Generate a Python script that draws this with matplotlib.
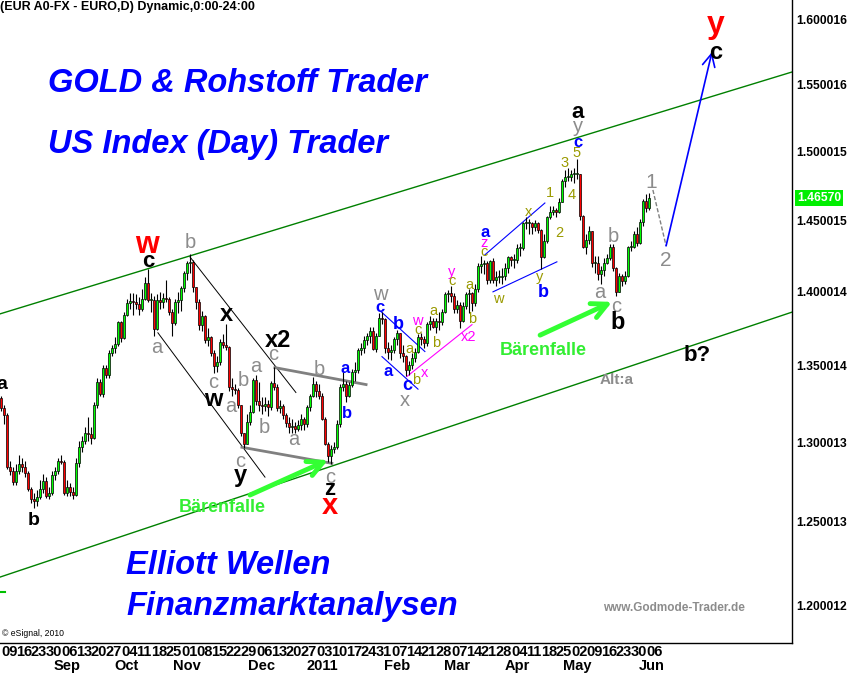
import numpy as np
import pandas as pd
import matplotlib
matplotlib.use('Agg')
import matplotlib.pyplot as plt

plt.rcParams['font.family'] = ['Liberation Sans', 'DejaVu Sans']

# EUR/USD Tageskerzen 06.08.2010 - 07.06.2011, Eröffnung = Schluss des Vortags
first_open = 1.3190

close_aug = [1.3285, 1.3220, 1.3174, 1.2840, 1.2820, 1.2750, 1.2820, 1.2862, 1.2844, 1.2806,
             1.2706, 1.2644, 1.2631, 1.2656, 1.2706, 1.2756, 1.2662, 1.2681]
high_aug = [1.3334, 1.3300, 1.3240, 1.3190, 1.2880, 1.2840, 1.2860, 1.2920, 1.2900, 1.2880,
            1.2820, 1.2720, 1.2680, 1.2700, 1.2760, 1.2800, 1.2780, 1.2720]
low_aug = [1.3190, 1.3200, 1.3120, 1.2830, 1.2790, 1.2730, 1.2730, 1.2800, 1.2810, 1.2780,
           1.2690, 1.2620, 1.2588, 1.2600, 1.2640, 1.2680, 1.2650, 1.2640]

close_sep = [1.2794, 1.2819, 1.2881, 1.2875, 1.2681, 1.2719, 1.2688, 1.2669, 1.2869, 1.2968, 1.3007,
             1.3058, 1.3052, 1.3026, 1.3238, 1.3393, 1.3313, 1.3481, 1.3440, 1.3584, 1.3619, 1.3646]
high_sep = [1.2820, 1.2840, 1.2900, 1.2920, 1.2890, 1.2760, 1.2740, 1.2720, 1.2900, 1.3010, 1.3040,
            1.3100, 1.3160, 1.3100, 1.3260, 1.3420, 1.3410, 1.3500, 1.3500, 1.3600, 1.3640, 1.3690]
low_sep = [1.2670, 1.2760, 1.2800, 1.2860, 1.2670, 1.2660, 1.2660, 1.2640, 1.2660, 1.2840, 1.2940,
           1.2990, 1.3010, 1.2990, 1.3020, 1.3220, 1.3300, 1.3290, 1.3420, 1.3420, 1.3560, 1.3580]

close_oct = [1.3793, 1.3686, 1.3837, 1.3920, 1.3936, 1.3929, 1.3915, 1.3880, 1.3950, 1.4058, 1.3943,
             1.3943, 1.3746, 1.3943, 1.3930, 1.3957, 1.3950, 1.3858, 1.3787, 1.3929, 1.3943]
high_oct = [1.3800, 1.3800, 1.3860, 1.3950, 1.3990, 1.3990, 1.3980, 1.3960, 1.4020, 1.4100, 1.4157,
            1.3990, 1.3970, 1.3980, 1.4000, 1.3990, 1.4080, 1.3960, 1.3880, 1.3950, 1.4000]
low_oct = [1.3630, 1.3660, 1.3680, 1.3830, 1.3880, 1.3840, 1.3880, 1.3840, 1.3870, 1.3940, 1.3930,
           1.3860, 1.3697, 1.3740, 1.3880, 1.3890, 1.3930, 1.3840, 1.3700, 1.3770, 1.3850]

close_nov = [1.4024, 1.4127, 1.4200, 1.4205, 1.4031, 1.3929, 1.3773, 1.3830, 1.3673, 1.3690, 1.3586,
             1.3494, 1.3525, 1.3659, 1.3640, 1.3625, 1.3360, 1.3347, 1.3340, 1.3238, 1.3058, 1.2988]
high_nov = [1.4040, 1.4140, 1.4210, 1.4264, 1.4220, 1.4030, 1.3950, 1.3870, 1.3840, 1.3750, 1.3700,
            1.3600, 1.3560, 1.3680, 1.3710, 1.3775, 1.3630, 1.3420, 1.3380, 1.3350, 1.3240, 1.3060]
low_nov = [1.3870, 1.4000, 1.4080, 1.4130, 1.4000, 1.3880, 1.3740, 1.3730, 1.3650, 1.3630, 1.3560,
           1.3450, 1.3460, 1.3500, 1.3620, 1.3600, 1.3330, 1.3300, 1.3310, 1.3220, 1.3040, 1.2963]

close_dec = [1.3131, 1.3195, 1.3407, 1.3265, 1.3238, 1.3232, 1.3250, 1.3226, 1.3387, 1.3360, 1.3220, 1.3235,
             1.3174, 1.3123, 1.3100, 1.3105, 1.3085, 1.3110, 1.3150, 1.3115, 1.3230, 1.3300, 1.3375]
high_dec = [1.3180, 1.3240, 1.3420, 1.3440, 1.3390, 1.3290, 1.3290, 1.3270, 1.3400, 1.3493, 1.3380, 1.3270,
            1.3250, 1.3190, 1.3160, 1.3150, 1.3130, 1.3140, 1.3180, 1.3160, 1.3240, 1.3310, 1.3421]
low_dec = [1.2990, 1.3110, 1.3190, 1.3240, 1.3200, 1.3180, 1.3200, 1.3170, 1.3210, 1.3340, 1.3200, 1.3190,
           1.3150, 1.3100, 1.3060, 1.3060, 1.3060, 1.3070, 1.3080, 1.3080, 1.3100, 1.3200, 1.3290]

close_jan = [1.3330, 1.3300, 1.3150, 1.2990, 1.2910, 1.2955, 1.2970, 1.3120, 1.3360, 1.3380, 1.3300,
             1.3370, 1.3460, 1.3470, 1.3600, 1.3620, 1.3670, 1.3700, 1.3730, 1.3610, 1.3700]
high_jan = [1.3400, 1.3380, 1.3320, 1.3160, 1.3000, 1.2980, 1.3000, 1.3140, 1.3380, 1.3458, 1.3400,
            1.3390, 1.3480, 1.3520, 1.3620, 1.3650, 1.3700, 1.3720, 1.3760, 1.3760, 1.3720]
low_jan = [1.3290, 1.3280, 1.3140, 1.2980, 1.2873, 1.2860, 1.2930, 1.2960, 1.3100, 1.3330, 1.3260,
           1.3290, 1.3360, 1.3400, 1.3450, 1.3570, 1.3580, 1.3640, 1.3650, 1.3600, 1.3590]

close_feb = [1.3820, 1.3810, 1.3620, 1.3590, 1.3600, 1.3680, 1.3720, 1.3580, 1.3560, 1.3470,
             1.3500, 1.3550, 1.3590, 1.3690, 1.3680, 1.3650, 1.3780, 1.3800, 1.3760, 1.3800]
high_feb = [1.3850, 1.3862, 1.3820, 1.3660, 1.3640, 1.3690, 1.3736, 1.3720, 1.3640, 1.3570,
            1.3530, 1.3580, 1.3620, 1.3710, 1.3720, 1.3700, 1.3790, 1.3830, 1.3820, 1.3820]
low_feb = [1.3700, 1.3780, 1.3580, 1.3540, 1.3538, 1.3580, 1.3640, 1.3550, 1.3520, 1.3428,
           1.3440, 1.3480, 1.3520, 1.3580, 1.3640, 1.3620, 1.3630, 1.3740, 1.3750, 1.3720]

close_mar = [1.3790, 1.3860, 1.3980, 1.3990, 1.3970, 1.3880, 1.3910, 1.3800, 1.3900, 1.3980, 1.3990, 1.3920,
             1.4020, 1.4180, 1.4190, 1.4200, 1.4080, 1.4210, 1.4080, 1.4100, 1.4100, 1.4110, 1.4160]
high_mar = [1.3860, 1.3880, 1.4000, 1.4010, 1.4036, 1.3990, 1.3940, 1.3930, 1.3930, 1.4000, 1.4020, 1.4000,
            1.4050, 1.4200, 1.4249, 1.4220, 1.4210, 1.4220, 1.4230, 1.4140, 1.4150, 1.4160, 1.4200]
low_mar = [1.3740, 1.3770, 1.3850, 1.3930, 1.3930, 1.3850, 1.3850, 1.3749, 1.3790, 1.3880, 1.3850, 1.3870,
           1.3900, 1.4000, 1.4130, 1.4120, 1.4050, 1.4060, 1.4060, 1.4040, 1.4060, 1.4050, 1.4080]

close_apr = [1.4240, 1.4220, 1.4220, 1.4300, 1.4300, 1.4480, 1.4480, 1.4480, 1.4450, 1.4480, 1.4430,
             1.4240, 1.4350, 1.4520, 1.4560, 1.4570, 1.4560, 1.4630, 1.4780, 1.4810, 1.4810]
high_apr = [1.4250, 1.4250, 1.4260, 1.4330, 1.4340, 1.4490, 1.4520, 1.4510, 1.4490, 1.4500, 1.4490,
            1.4440, 1.4400, 1.4530, 1.4600, 1.4600, 1.4590, 1.4660, 1.4800, 1.4860, 1.4880]
low_apr = [1.4130, 1.4180, 1.4160, 1.4200, 1.4250, 1.4290, 1.4440, 1.4400, 1.4400, 1.4420, 1.4410,
           1.4155, 1.4230, 1.4340, 1.4510, 1.4540, 1.4520, 1.4550, 1.4630, 1.4740, 1.4780]

close_may = [1.4830, 1.4830, 1.4830, 1.4530, 1.4310, 1.4360, 1.4420, 1.4200, 1.4200, 1.4120, 1.4150,
             1.4200, 1.4230, 1.4310, 1.4160, 1.4000, 1.4110, 1.4070, 1.4110, 1.4310, 1.4310, 1.4400]
high_may = [1.4860, 1.4880, 1.4940, 1.4830, 1.4540, 1.4400, 1.4460, 1.4420, 1.4250, 1.4250, 1.4180,
            1.4230, 1.4260, 1.4330, 1.4330, 1.4170, 1.4130, 1.4120, 1.4140, 1.4320, 1.4350, 1.4420]
low_may = [1.4780, 1.4770, 1.4800, 1.4500, 1.4300, 1.4260, 1.4330, 1.4170, 1.4130, 1.4080, 1.4050,
           1.4110, 1.4190, 1.4220, 1.4140, 1.3968, 1.4000, 1.4040, 1.4050, 1.4100, 1.4280, 1.4300]

close_jun = [1.4340, 1.4490, 1.4640, 1.4590, 1.4657]
high_jun = [1.4450, 1.4510, 1.4650, 1.4690, 1.4695]
low_jun = [1.4320, 1.4330, 1.4460, 1.4560, 1.4570]

last_price = 1.46570

price_ticks = [1.200012, 1.250013, 1.300013, 1.350014, 1.400014,
               1.450015, 1.500015, 1.550016, 1.600016]
price_tick_labels = ['1.200012', '1.250013', '1.300013', '1.350014', '1.400014',
                     '1.450015', '1.500015', '1.550016', '1.600016']
month_names = {9: 'Sep', 10: 'Oct', 11: 'Nov', 12: 'Dec', 1: '2011',
               2: 'Feb', 3: 'Mar', 4: 'Apr', 5: 'May', 6: 'Jun'}

close = (close_aug + close_sep + close_oct + close_nov + close_dec + close_jan
         + close_feb + close_mar + close_apr + close_may + close_jun)
high = (high_aug + high_sep + high_oct + high_nov + high_dec + high_jan
        + high_feb + high_mar + high_apr + high_may + high_jun)
low = (low_aug + low_sep + low_oct + low_nov + low_dec + low_jan
       + low_feb + low_mar + low_apr + low_may + low_jun)

dates = pd.bdate_range('2010-08-06', '2011-06-07')
c = np.array(close)
h = np.array(high)
l = np.array(low)
o = np.concatenate([[first_open], c[:-1]])
pos = np.arange(len(dates))

# Wellen-Zählung: (Kerzen-Position, Kurs, Text, Farbe, Größe, fett)
GR = '#8c8c8c'
OL = '#9a9a00'
BL = '#0000ff'
MG = '#ff00ff'
RD = '#ff0000'
BK = 'black'
labels = [
    (1.3, 1.3374, 'a', BK, 14, True), (12.0, 1.2512, 'b', BK, 14, True),
    (49.7, 1.4325, 'w', RD, 22, True), (50.0, 1.4206, 'c', BK, 16, True),
    (64.0, 1.4339, 'b', GR, 14.5, False), (53.0, 1.3619, 'a', GR, 14.5, False),
    (76.3, 1.3841, 'x', BK, 17, True), (71.7, 1.3388, 'c', GR, 14.5, False),
    (71.7, 1.3276, 'w', BK, 17, True), (77.7, 1.3231, 'a', GR, 14.5, False),
    (81.7, 1.3401, 'b', GR, 14.5, False), (86.0, 1.3493, 'a', GR, 14.5, False),
    (88.7, 1.3095, 'b', GR, 14.5, False), (93.3, 1.3666, 'x2', BK, 17, True),
    (91.7, 1.3573, 'c', GR, 14.5, False), (80.7, 1.2879, 'c', GR, 14.5, False),
    (80.7, 1.2790, 'y', BK, 17, True), (107.0, 1.3473, 'b', GR, 14.5, False),
    (98.7, 1.3019, 'a', GR, 14.5, False), (115.7, 1.3480, 'a', BL, 12, True),
    (116.3, 1.3186, 'b', BL, 12, True), (110.7, 1.2779, 'c', GR, 14.5, False),
    (110.7, 1.2700, 'z', BK, 16, True), (110.7, 1.2598, 'x', RD, 21, True),
    (127.3, 1.3978, 'w', GR, 14.5, False), (127.3, 1.3889, 'c', BL, 12, True),
    (133.3, 1.3774, 'b', BL, 13, True), (130.0, 1.3460, 'a', BL, 12, True),
    (136.3, 1.3368, 'c', BL, 13, True), (135.7, 1.3270, 'x', GR, 14.5, False),
    (137.0, 1.3612, 'a', OL, 10.5, False), (139.3, 1.3401, 'b', OL, 10.5, False),
    (142.3, 1.3447, 'x', MG, 10.5, False), (139.7, 1.3801, 'w', MG, 10.5, False),
    (140.0, 1.3740, 'c', OL, 10.5, False), (145.3, 1.3869, 'a', OL, 10.5, False),
    (146.0, 1.3653, 'b', OL, 10.5, False), (151.3, 1.4136, 'y', MG, 10.5, False),
    (151.3, 1.4074, 'c', OL, 10.5, False), (157.0, 1.4046, 'a', OL, 10.5, False),
    (158.0, 1.3814, 'b', OL, 10.5, False), (156.7, 1.3693, 'x2', MG, 10.5, False),
    (162.3, 1.4409, 'a', BL, 12, True), (162.0, 1.4339, 'z', MG, 10.5, False),
    (162.0, 1.4276, 'c', OL, 10.5, False), (166.7, 1.3950, 'w', OL, 10.5, False),
    (176.7, 1.4559, 'x', OL, 10.5, False), (180.7, 1.4102, 'y', OL, 10.5, False),
    (181.7, 1.3991, 'b', BL, 13, True), (184.0, 1.4695, '1', OL, 10.5, False),
    (187.0, 1.4409, '2', OL, 10.5, False), (189.0, 1.4913, '3', OL, 10.5, False),
    (191.3, 1.4681, '4', OL, 10.5, False), (193.0, 1.4987, '5', OL, 10.5, False),
    (193.3, 1.5061, 'c', BL, 12, True), (193.3, 1.5180, 'y', GR, 14.5, False),
    (193.3, 1.5292, 'a', BK, 16, True), (200.7, 1.3991, 'a', GR, 14.5, False),
    (205.0, 1.4381, 'b', GR, 14.5, False), (206.0, 1.3896, 'c', GR, 14.5, False),
    (206.7, 1.3787, 'b', BK, 17, True), (217.7, 1.4768, '1', GR, 15, False),
    (222.7, 1.4213, '2', GR, 15, False), (239.3, 1.5961, 'y', RD, 23, True),
    (239.3, 1.5750, 'c', BK, 17, True), (233.0, 1.3566, 'b?', BK, 16, True),
    (206.3, 1.3401, 'Alt:a', GR, 11, True),
    (74.7, 1.2592, 'Bärenfalle', '#33ee33', 13, True),
    (181.7, 1.3599, 'Bärenfalle', '#33ee33', 13, True),
]

# Trendlinien: (x0, p0, x1, p1, Farbe, Breite, Stil)
lines = [
    (0.67, 1.3847, 264.67, 1.5596, '#008000', 1.0, '-'),
    (0.67, 1.2166, 264.67, 1.3859, '#008000', 1.0, '-'),
    (0.67, 1.2077, 2.3, 1.2077, '#00c000', 1.5, '-'),
    (64.0, 1.4240, 99.3, 1.3322, 'black', 0.7, '-'),
    (53.3, 1.3719, 89.0, 1.2779, 'black', 0.7, '-'),
    (92.3, 1.3486, 122.7, 1.3374, '#808080', 2.0, '-'),
    (81.3, 1.2968, 111.3, 1.2866, '#808080', 2.0, '-'),
    (127.7, 1.3862, 142.3, 1.3593, BL, 0.8, '-'),
    (128.0, 1.3559, 140.0, 1.3344, BL, 0.8, '-'),
    (162.3, 1.4255, 182.3, 1.4623, BL, 0.8, '-'),
    (165.0, 1.3998, 186.3, 1.4206, BL, 0.8, '-'),
    (136.3, 1.3427, 158.0, 1.3774, MG, 0.8, '-'),
    (218.3, 1.4717, 222.7, 1.4318, '#808080', 1.0, (0, (3, 1.5))),
]

# Pfeile: (x0, p0, x1, p1, Farbe, Breite)
arrows = [
    (84.0, 1.2667, 110.0, 1.2887, '#33ff33', 3.5),
    (180.7, 1.3703, 204.7, 1.3929, '#33ff33', 3.5),
    (222.7, 1.4318, 238.0, 1.5750, BL, 1.2),
]

W, H = 848, 673
fig = plt.figure(figsize=(W / 100, H / 100), dpi=100)
ax = fig.add_axes([0, 30 / H, 792 / W, 643 / H])
ax.set_yscale('log')
ax.set_xlim(0.67, 264.67)
ax.set_ylim(1.1778, 1.6158)

# Kerzen
up = c >= o
lo_b = np.minimum(o, c)
hi_b = np.maximum(np.maximum(o, c), lo_b * 1.0005)
ax.vlines(pos, l, h, color='black', lw=0.8, zorder=2)
ax.bar(pos, hi_b - lo_b, bottom=lo_b, width=0.8,
       color=np.where(up, '#00ff00', '#ff0000'), edgecolor='black', linewidth=0.5, zorder=3)

for x0, p0, x1, p1, col, lw, ls in lines:
    ax.plot([x0, x1], [p0, p1], color=col, lw=lw, ls=ls, zorder=1)

for x0, p0, x1, p1, col, lw in arrows:
    hl = 1.1 if lw > 2 else 0.9
    ax.annotate('', xy=(x1, p1), xytext=(x0, p0),
                arrowprops=dict(arrowstyle=f'->,head_length={hl},head_width={hl * 0.5}',
                                color=col, lw=lw, shrinkA=0, shrinkB=0), zorder=4)

for x, p, txt, col, size, bold in labels:
    ax.text(x, p, txt, color=col, fontsize=size, fontweight='bold' if bold else 'normal',
            ha='center', va='center', zorder=5)

# Achsen
for s in ['top', 'left']:
    ax.spines[s].set_visible(False)
ax.spines['right'].set_linewidth(1.0)
ax.spines['bottom'].set_linewidth(1.0)
ax.yaxis.tick_right()
ax.yaxis.set_minor_locator(matplotlib.ticker.NullLocator())
ax.set_yticks(price_ticks)
ax.set_yticklabels(price_tick_labels, fontsize=8.7, fontweight='bold')
ax.tick_params(axis='y', length=0, pad=3)

mondays = [i for i, d in enumerate(dates) if d.weekday() == 0]
ax.set_xticks(mondays)
ax.set_xticklabels([f'{dates[i].day:02d}' for i in mondays], fontsize=10.5,
                   fontweight='bold', ha='left')
ax.tick_params(axis='x', length=0, pad=1.5)
seen = set()
for i in mondays:
    m = dates[i].month
    if m in month_names and m not in seen:
        seen.add(m)
        ax.text(i + 2, -0.036, month_names[m], transform=ax.get_xaxis_transform(),
                fontsize=10.5, fontweight='bold', ha='center', va='center')

ax.annotate(f'{last_price:.5f}', xy=(1.006, last_price), xycoords=('axes fraction', 'data'),
            color='white', fontsize=8.7, fontweight='bold', ha='left', va='center',
            bbox=dict(boxstyle='square,pad=0.18', fc='#00ee00', ec='none'), annotation_clip=False)

# Texte
fig.text(0.0, 1 - 7 / H, '(EUR A0-FX - EURO,D) Dynamic,0:00-24:00', fontsize=9,
         fontweight='bold', ha='left', va='center')
big = dict(color='#0000ff', fontsize=23.5, fontweight='bold', fontstyle='italic',
           ha='left', va='center')
fig.text(48 / W, 1 - 84 / H, 'GOLD & Rohstoff Trader', **big)
fig.text(48 / W, 1 - 144 / H, 'US Index (Day) Trader', **big)
fig.text(126 / W, 1 - 565 / H, 'Elliott Wellen', **big)
fig.text(126 / W, 1 - 606 / H, 'Finanzmarktanalysen', **big)
fig.text(603 / W, 1 - 608 / H, 'www.Godmode-Trader.de', color='#8c8c8c', fontsize=8.5,
         fontweight='bold', ha='left', va='center')
fig.text(2 / W, 1 - 633 / H, '© eSignal, 2010', fontsize=6.2, ha='left', va='center')

fig.savefig('out.png', dpi=100)
